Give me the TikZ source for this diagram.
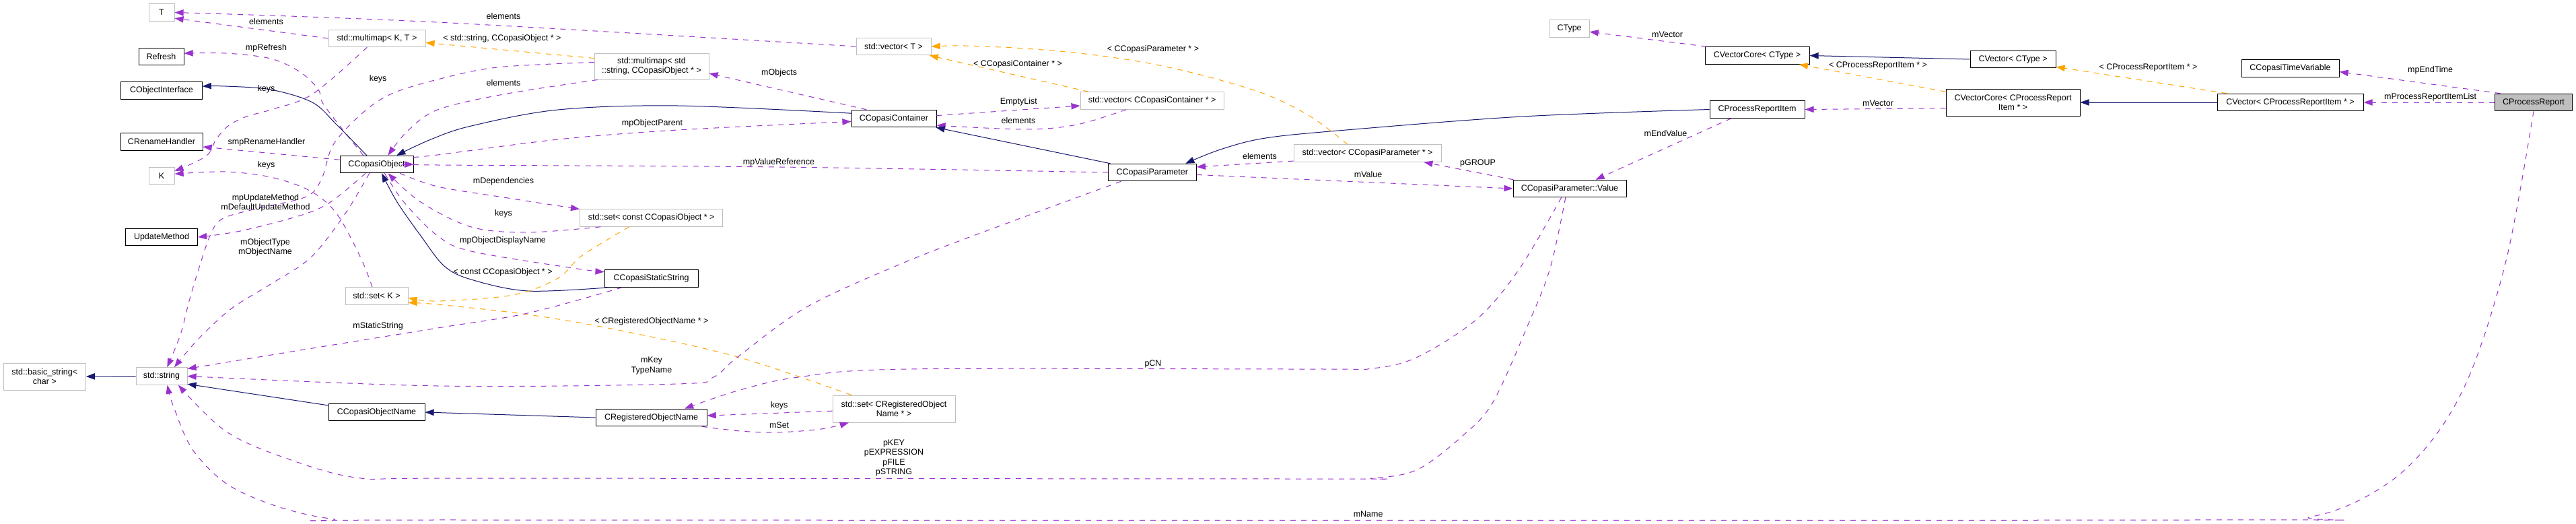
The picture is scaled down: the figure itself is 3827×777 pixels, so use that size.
\documentclass[tikz,border=0pt]{standalone}
\usepackage{fontspec}
\setmainfont{Liberation Sans}
\usetikzlibrary{arrows.meta}
\definecolor{navy}{HTML}{191970}
\definecolor{purp}{HTML}{9A32CD}
\definecolor{orng}{HTML}{FFA500}
\definecolor{gry}{HTML}{BFBFBF}
\begin{document}
\begin{tikzpicture}[x=0.8pt,y=-0.8pt,font=\fontsize{10}{11.5}\selectfont,
  box/.style={draw=black,fill=white,line width=0.8pt,inner sep=0pt,align=center,minimum height=20.4pt},
  ext/.style={box,draw=gry},
  tall/.style={minimum height=32pt},
  inh/.style={draw=navy,line width=0.8pt,-{Triangle[length=10.5pt,width=7.5pt]}},
  rel/.style={draw=purp,line width=0.8pt,dash pattern=on 6.4pt off 6.4pt,-{Triangle[length=10.5pt,width=7.5pt]}},
  tpl/.style={draw=orng,line width=0.8pt,dash pattern=on 6.4pt off 6.4pt,-{Triangle[length=10.5pt,width=7.5pt]}},
  lab/.style={inner sep=0pt,align=center},
  sm/.style={smooth,tension=0.55}]
\fill[white] (0,0) rectangle (3827,777);
\useasboundingbox (0,0) rectangle (3827,777);
% ---- nodes
\node[ext,tall,minimum width=97.6pt] (bstr) at (66.3,559) {std::basic\_string<\\char >};
\node[ext,minimum width=30.4pt] (T) at (240,18.5) {T};
\node[box,minimum width=53.6pt] (Refresh) at (239.5,84) {Refresh};
\node[box,minimum width=96.4pt] (COI) at (240,134.5) {CObjectInterface};
\node[box,minimum width=97.6pt] (CRH) at (240,210.5) {CRenameHandler};
\node[ext,minimum width=30.4pt] (K) at (240,261) {K};
\node[box,minimum width=85.6pt] (UM) at (240,352) {UpdateMethod};
\node[ext,minimum width=60.8pt] (string) at (240,558.5) {std::string};
\node[ext,minimum width=115.2pt] (mmKT) at (560,57) {std::multimap< K, T >};
\node[box,minimum width=87.2pt] (CCO) at (559.5,244) {CCopasiObject};
\node[ext,minimum width=74.4pt] (setK) at (559.5,439.5) {std::set< K >};
\node[box,minimum width=114.4pt] (COName) at (559.5,612) {CCopasiObjectName};
\node[ext,tall,minimum width=136pt,minimum height=31.2pt] (mmStr) at (968,98.5) {std::multimap< std\\::string, CCopasiObject * >};
\node[ext,minimum width=169.6pt] (setConst) at (967.6,323.5) {std::set< const CCopasiObject * >};
\node[box,minimum width=111.2pt] (CCSS) at (967.6,413.5) {CCopasiStaticString};
\node[box,minimum width=132pt] (CRON) at (967.6,620) {CRegisteredObjectName};
\node[ext,minimum width=88.8pt] (vecT) at (1327.6,69) {std::vector< T >};
\node[box,minimum width=100.8pt] (CCC) at (1328,176) {CCopasiContainer};
\node[ext,tall,minimum width=145.6pt] (setReg) at (1328,607) {std::set< CRegisteredObject\\Name * >};
\node[ext,minimum width=170.4pt] (vecCC) at (1711.6,149.5) {std::vector< CCopasiContainer * >};
\node[box,minimum width=104.8pt] (CCP) at (1711.8,256) {CCopasiParameter};
\node[ext,minimum width=175.2pt] (vecCP) at (2031.6,227.5) {std::vector< CCopasiParameter * >};
\node[ext,minimum width=47.2pt] (CType) at (2331.6,42.5) {CType};
\node[box,minimum width=134.4pt] (Value) at (2332,280) {CCopasiParameter::Value};
\node[box,minimum width=124pt] (CVCType) at (2610.5,82.5) {CVectorCore< CType >};
\node[box,minimum width=112.8pt] (CPRI) at (2610.5,162.5) {CProcessReportItem};
\node[box,minimum width=101.6pt] (CVCT) at (2990.6,88) {CVector< CType >};
\node[box,tall,minimum width=159.2pt] (CVCPRI) at (2990.5,152) {CVectorCore< CProcessReport\\Item * >};
\node[box,minimum width=116pt] (CCTV) at (3402.5,101.5) {CCopasiTimeVariable};
\node[box,minimum width=173.6pt] (CVPRI) at (3402.5,152) {CVector< CProcessReportItem * >};
\node[box,fill=gry,minimum width=92pt] (CPR) at (3764,152) {CProcessReport};
% ---- edges
\draw[rel] plot[sm] coordinates {(vecT.west) (650,33) (T.east)};
\draw[rel] (mmKT.west) -- (T.-24);
\draw[rel] plot[sm] coordinates {(mmKT.-138) (464,140) (402,163) (366,173) (339,187) (321,207) (306,232) (K.20)};
\draw[rel] plot[sm] coordinates {(setK.116) (536,383) (500,317) (460,283) (402,263) (335,255) (K.8)};
\draw[rel] plot[sm] coordinates {(CCO.146) (482,157) (473,133) (446,107) (402,87) (335,79) (Refresh.8)};
\draw[inh] plot[sm] coordinates {(CCO.138) (500,185) (464,152) (402,133) (335,128) (COI.6)};
\draw[rel] (CCO.173) -- (CRH.-7);
\draw[rel] plot[sm] coordinates {(CCO.-141) (491,300) (446,320) (357,343) (UM.east)};
\draw[rel] plot[sm] coordinates {(CCO.-129) (513,317) (462,382) (402,422) (344,458) (295,503) (string.35)};
\draw[rel] plot[sm] coordinates {(mmStr.176) (739,100) (650,118) (580,140) (536,170) (495,215) (478,265) (455,292) (380,310) (330,325) (312,350) (295,400) (281,447) (268,497) (string.58)};
\draw[rel] plot[sm] coordinates {(mmStr.-166) (748,140) (650,163) (605,195) (CCO.38)};
\draw[inh] plot[sm] coordinates {(CCC.173) (1007,157) (829,163) (700,187) (640,207) (CCO.24)};
\draw[rel] plot[sm] coordinates {(CCO.11) (650,230) (829,207) (1007,193) (CCC.-176)};
\draw[rel] plot[sm] coordinates {(CCP.west) (1157,248) (650,245) (CCO.east)};
\draw[rel] plot[sm] coordinates {(CCO.-21) (650,277) (748,293) (setConst.173)};
\draw[rel] plot[sm] coordinates {(setConst.-170) (784,345) (700,337) (625,300) (CCO.-38)};
\draw[rel] plot[sm] coordinates {(CCO.-48) (600,300) (650,350) (700,373) (851,398) (CCSS.172)};
\draw[inh] plot[sm] coordinates {(CCSS.-168) (784,432) (700,415) (660,395) (625,350) (590,300) (CCO.-60)};
\draw[tpl] plot[sm] coordinates {(setConst.-158) (864,380) (829,413) (762,438) (650,447) (setK.-3)};
\draw[tpl] plot[sm] coordinates {(setReg.162) (1096,530) (918,490) (784,467) (650,452) (setK.-12)};
\draw[rel] plot[sm] coordinates {(CCSS.-163) (784,465) (650,487) (446,520) (string.16)};
\draw[rel] plot[sm] coordinates {(CCP.-164) (1500,330) (1350,387) (1200,455) (1096,530) (1060,560) (1007,570) (650,573) (string.east)};
\draw[rel] plot[sm] coordinates {(Value.-133) (2258,398) (2195,473) (2106,530) (2039,547) (1950,548) (1350,548) (1186,560) (1096,580) (CRON.15)};
\draw[rel] plot[sm] coordinates {(Value.-115) (2303,398) (2271,480) (2218,597) (2173,647) (2106,697) (2039,710) (1950,711) (700,710) (536,710) (424,680) (335,640) (string.-28)};
\draw[rel] plot[sm] coordinates {(CPR.south) (3724.7,380) (3673,547) (3618,647) (3544,720) (3434,767) (3250,772) (700,772) (491,770) (357,730) (290,673) (259,607) (string.-57)};
\draw[rel] (CVCType.170) -- (CType.-9);
\draw[inh] (CVCT.west) -- (CVCType.east);
\draw[tpl] (CVCPRI.171) -- (CVCType.-12.5);
\draw[rel] (CVCPRI.-175) -- (CPRI.east);
\draw[inh] (CVPRI.west) -- (CVCPRI.east);
\draw[tpl] (CVPRI.172) -- (CVCT.-10);
\draw[rel] (CPR.165) -- (CCTV.-4);
\draw[rel] (CPR.west) -- (CVPRI.east);
\draw[inh] plot[sm] coordinates {(CPRI.west) (2262,173) (2000,193) (1880,205) (1813,222) (CCP.15)};
\draw[rel] (CPRI.-161) -- (Value.19);
\draw[rel] (CCP.-3) -- (Value.west);
\draw[rel] (Value.171) -- (vecCP.-9.5);
\draw[rel] (vecCP.-174.5) -- (CCP.7);
\draw[tpl] plot[sm] coordinates {(vecCP.156) (1947,173) (1880,140) (1791,113) (1702,93) (1612,80) (1523,72) (1434,68) (vecT.east)};
\draw[tpl] (vecCC.172) -- (vecT.-14.5);
\draw[rel] (CCC.4.5) -- (vecCC.-176);
\draw[rel] plot[sm] coordinates {(vecCC.-161) (1600,185) (1523,192) (CCC.-9)};
\draw[inh] (CCP.168.5) -- (CCC.-12);
\draw[rel] (CCC.162) -- (mmStr.-7.7);
\draw[tpl] (mmStr.172) -- (mmKT.-5.6);
\draw[rel] (setReg.-178) -- (CRON.2);
\draw[rel] plot[sm] coordinates {(CRON.-10) (1100,640) (1154,642) (1220,637) (setReg.-163)};
\draw[inh] (CRON.west) -- (COName.east);
\draw[inh] (COName.172) -- (string.-17);
\draw[inh] (string.west) -- (bstr.east);
% ---- labels
\node[lab] (l1) at (748,24) {elements};
\node[lab] (l2) at (395.5,32) {elements};
\node[lab] (l3) at (395.5,132) {keys};
\node[lab] (l4) at (395.5,245) {keys};
\node[lab] (l5) at (395.5,71) {mpRefresh};
\node[lab] (l6) at (396,211) {smpRenameHandler};
\node[lab] (l7) at (394.5,301.5) {mpUpdateMethod\\mDefaultUpdateMethod};
\node[lab] (l8) at (394,367) {mObjectType\\mObjectName};
\node[lab] (l9) at (561.6,117) {keys};
\node[lab] (l10) at (748,123) {elements};
\node[lab] (l11) at (969,183) {mpObjectParent};
\node[lab] (l12) at (1157,241) {mpValueReference};
\node[lab] (l13) at (748,269) {mDependencies};
\node[lab] (l14) at (748,317) {keys};
\node[lab] (l15) at (747,357) {mpObjectDisplayName};
\node[lab] (l16) at (747,404) {< const CCopasiObject * >};
\node[lab] (l17) at (968,477) {< CRegisteredObjectName * >};
\node[lab] (l18) at (561.6,484) {mStaticString};
\node[lab] (l19) at (968,543) {mKey\\TypeName};
\node[lab] (l20) at (1713,540) {pCN};
\node[lab] (l21) at (1328,680) {pKEY\\pEXPRESSION\\pFILE\\pSTRING};
\node[lab] (l22) at (2032.6,763) {mName};
\node[lab] (l23) at (2477,51) {mVector};
\node[lab] (l24) at (2790,97) {< CProcessReportItem * >};
\node[lab] (l25) at (2790,153) {mVector};
\node[lab] (l26) at (3191.5,100) {< CProcessReportItem * >};
\node[lab] (l27) at (3610.6,104) {mpEndTime};
\node[lab] (l28) at (3610.6,144) {mProcessReportItemList};
\node[lab] (l29) at (2474.5,198) {mEndValue};
\node[lab] (l30) at (2032.6,259) {mValue};
\node[lab] (l31) at (2195.5,242) {pGROUP};
\node[lab] (l32) at (1871.4,232) {elements};
\node[lab] (l33) at (1713,73) {< CCopasiParameter * >};
\node[lab] (l34) at (1512,95) {< CCopasiContainer * >};
\node[lab] (l35) at (1513.4,151) {EmptyList};
\node[lab] (l36) at (1513,179) {elements};
\node[lab] (l37) at (1157.6,108) {mObjects};
\node[lab] (l38) at (746,57) {< std::string, CCopasiObject * >};
\node[lab] (l39) at (1157.6,602) {keys};
\node[lab] (l40) at (1157.6,631) {mSet};
\end{tikzpicture}
\end{document}
